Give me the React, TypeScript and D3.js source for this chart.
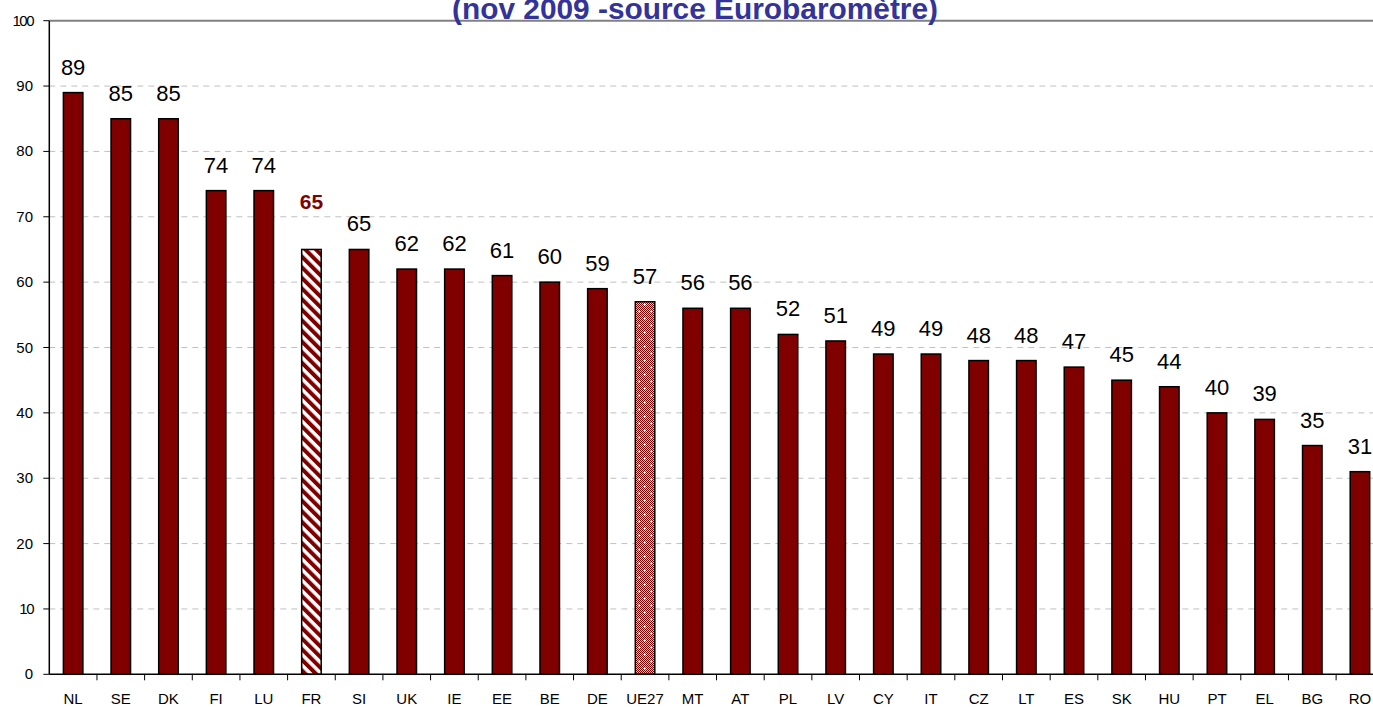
import React from "react";
import * as d3 from "d3";

const categories = ["NL","SE","DK","FI","LU","FR","SI","UK","IE","EE","BE","DE","UE27","MT","AT","PL","LV","CY","IT","CZ","LT","ES","SK","HU","PT","EL","BG","RO"];
const values = [89,85,85,74,74,65,65,62,62,61,60,59,57,56,56,52,51,49,49,48,48,47,45,44,40,39,35,31];
const yTicks = [0,10,20,30,40,50,60,70,80,90,100];
const title = "(nov 2009 -source Eurobaromètre)";

const W = 1373, H = 707;
const FONT = "Arial, 'Liberation Sans', sans-serif";

export default function App() {
  const left = 49.3, top = 20.7, bottom = 674.3;
  const step = 47.66;
  const x = d3.scaleBand<string>().domain(categories).range([left, left + step * categories.length]).padding(0);
  const y = d3.scaleLinear().domain([0, 100]).range([bottom, top]);
  const barW = 19.5;

  return (
    <svg width={W} height={H} style={{ position: "absolute", left: 0, top: 0, background: "#fff" }}>
      <defs>
        <pattern id="stripes" width="7.5" height="7.5" patternUnits="userSpaceOnUse" patternTransform="rotate(-45)">
          <rect x="0" y="0" width="7.5" height="7.5" fill="#fff" />
          <rect x="0" y="0" width="4" height="7.5" fill="#800000" />
        </pattern>
        <pattern id="checker" width="2" height="2" patternUnits="userSpaceOnUse">
          <rect x="0" y="0" width="2" height="2" fill="#eccccc" />
          <rect x="0" y="0" width="1" height="1" fill="#800000" />
          <rect x="1" y="1" width="1" height="1" fill="#800000" />
        </pattern>
        <pattern id="dots" width="12" height="14" patternUnits="userSpaceOnUse">
          <rect x="0" y="0" width="12" height="14" fill="url(#checker)" />
          <rect x="2" y="3" width="2" height="1" fill="#fff" />
          <rect x="2.5" y="2.5" width="1" height="2" fill="#fff" />
          <rect x="8" y="10" width="2" height="1" fill="#fff" />
          <rect x="8.5" y="9.5" width="1" height="2" fill="#fff" />
        </pattern>
      </defs>

      {/* gridlines */}
      {yTicks.filter(t => t > 0 && t < 100).map(t => (
        <line key={"g" + t} x1={left} x2={W} y1={y(t)} y2={y(t)} stroke="#c0c0c0" strokeWidth={1} strokeDasharray="6,5" />
      ))}
      {/* top border */}
      <line x1={left} x2={W} y1={top} y2={top} stroke="#808080" strokeWidth={2} />

      {/* bars */}
      {categories.map((c, i) => {
        const cx = (x(c) as number) + x.bandwidth() / 2;
        const fill = c === "FR" ? "url(#stripes)" : c === "UE27" ? "url(#dots)" : "#800000";
        return (
          <rect key={c} x={cx - barW / 2} y={y(values[i])} width={barW} height={bottom - y(values[i])}
            fill={fill} stroke="#000" strokeWidth={1.5} />
        );
      })}

      {/* value labels */}
      {categories.map((c, i) => {
        const cx = (x(c) as number) + x.bandwidth() / 2;
        const isFR = c === "FR";
        return (
          <text key={"v" + c} x={cx} y={y(values[i]) - (isFR ? 40 : 18)} textAnchor="middle"
            fontFamily={FONT} fontSize={isFR ? 21 : 22} fontWeight={isFR ? "bold" : "normal"} fill={isFR ? "#800000" : "#000"}>
            {values[i]}
          </text>
        );
      })}

      {/* y axis */}
      <line x1={left} x2={left} y1={top} y2={bottom} stroke="#000" strokeWidth={1.5} />
      {yTicks.map(t => (
        <g key={"y" + t}>
          <line x1={left - 6} x2={left} y1={y(t)} y2={y(t)} stroke="#000" strokeWidth={1} />
          <text x={33} y={y(t) + 5} textAnchor="end" fontFamily={FONT} fontSize={15} fill="#000"
            letterSpacing={t === 100 || t === 10 ? -1.5 : 0}>{t}</text>
        </g>
      ))}

      {/* x axis */}
      <line x1={left} x2={W} y1={bottom} y2={bottom} stroke="#000" strokeWidth={1.5} />
      {categories.map((c) => (
        <line key={"xt" + c} x1={(x(c) as number) + step} x2={(x(c) as number) + step} y1={bottom} y2={bottom + 6} stroke="#000" strokeWidth={1} />
      ))}
      {categories.map(c => (
        <text key={"xl" + c} x={(x(c) as number) + x.bandwidth() / 2} y={704} textAnchor="middle"
          fontFamily={FONT} fontSize={15} fill="#000">{c}</text>
      ))}

      {/* title */}
      <text x={695} y={19} textAnchor="middle" fontFamily={FONT} fontSize={29} fontWeight="bold" fill="#333399" textLength={486} lengthAdjust="spacingAndGlyphs">{title}</text>
    </svg>
  );
}
